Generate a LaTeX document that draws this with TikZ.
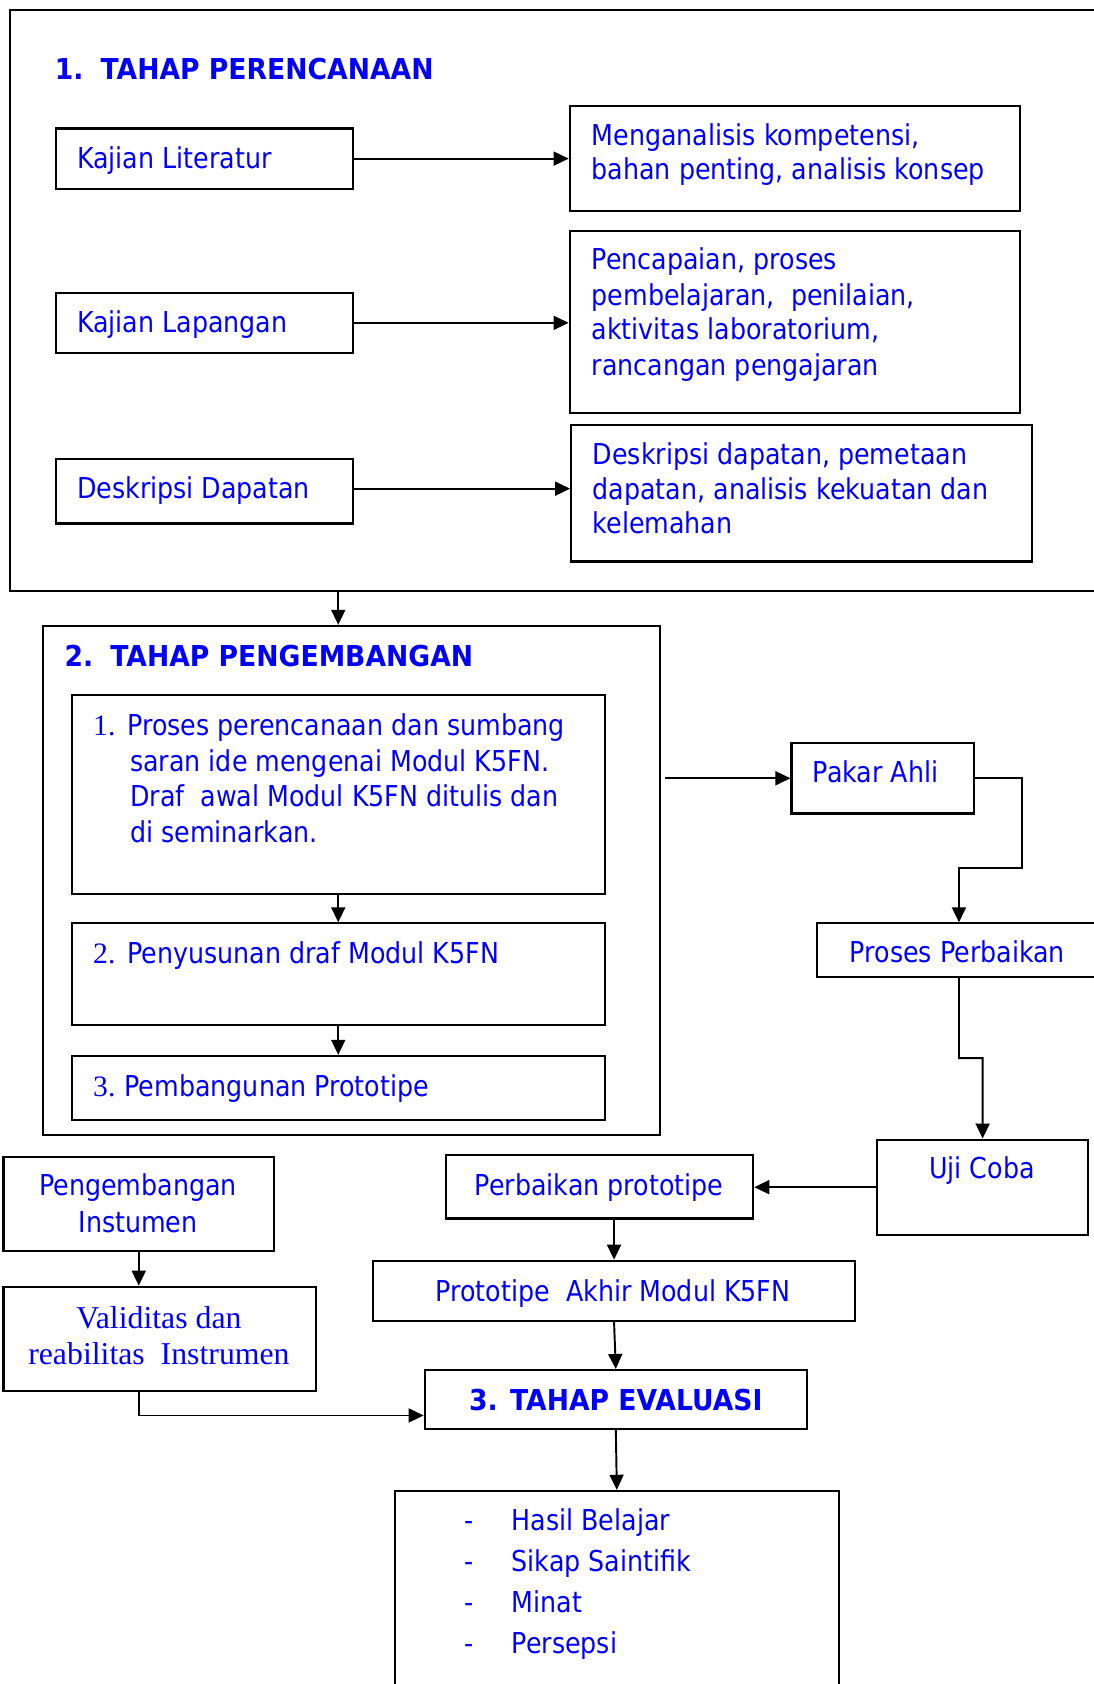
\documentclass[tikz,border=0pt]{standalone}
\usepackage{fontspec}
\setmainfont{DejaVu Sans}[FakeStretch=0.88]
\newfontfamily\titlefont{DejaVu Sans}[FakeStretch=0.925]
\newfontfamily\serifnum{Liberation Serif}
\usetikzlibrary{arrows.meta,fit}
\definecolor{txtblue}{RGB}{0,0,255}
\tikzset{
  box/.style={draw=black, line width=1pt, inner sep=0pt},
  txt/.style={text=txtblue, inner sep=0pt, font=\fontsize{13.4}{16.35}\selectfont},
  btxt/.style={txt, font=\titlefont\fontsize{13.4}{16.35}\selectfont\bfseries},
  stxt/.style={text=txtblue, inner sep=0pt, font=\serifnum\fontsize{14.8}{17}\selectfont},
  ntxt/.style={text=txtblue, inner sep=0pt, font=\serifnum\fontsize{13.8}{16.35}\selectfont},
  link/.style={draw=black, line width=0.9pt, -{Triangle[length=7pt,width=6.5pt]}},
}
\begin{document}
\begin{tikzpicture}[x=0.5pt,y=-0.5pt]
\useasboundingbox (0,0) rectangle (1018,1568);

% ---------- 1. planning stage ----------
\node[box, fit={(9.5,9) (1040,550.5)}] (plan) {};
\node[btxt, anchor=base west] (plantitle) at (50.6,74.1) {1.\hspace{8pt}TAHAP PERENCANAAN};

\node[box, fit={(52,119.7) (329,175.7)}] (kl) {};
\node[txt, anchor=base west] (klt) at (71.4,156.8) {Kajian Literatur};
\node[box, fit={(530.5,98.4) (949.4,196.7)}] (ma) {};
\node[txt, anchor=base west] (ma1) at (550.6,135.4) {Menganalisis kompetensi,};
\node[txt, anchor=base west] (ma2) at (550.6,167.5) {bahan penting, analisis konsep};

\node[box, fit={(52,272.6) (329,328.6)}] (klap) {};
\node[txt, anchor=base west] (klapt) at (71.4,310) {Kajian Lapangan};
\node[box, fit={(530.5,214.9) (949.4,384.2)}] (pen) {};
\node[txt, anchor=base west] (pen1) at (550.6,251.2) {Pencapaian, proses};
\node[txt, anchor=base west] (pen2) at (550.6,284) {pembelajaran,\ \ penilaian,};
\node[txt, anchor=base west] (pen3) at (550.6,316.5) {aktivitas laboratorium,};
\node[txt, anchor=base west] (pen4) at (550.6,349.2) {rancangan pengajaran};

\node[box, fit={(52,427.7) (329,487.5)}] (dd) {};
\node[txt, anchor=base west] (ddt) at (71.4,464.4) {Deskripsi Dapatan};
\node[box, fit={(531.8,396) (961,522.8)}] (ddx) {};
\node[txt, anchor=base west] (ddx1) at (551.5,432.3) {Deskripsi dapatan, pemetaan};
\node[txt, anchor=base west] (ddx2) at (551.5,465) {dapatan, analisis kekuatan dan};
\node[txt, anchor=base west] (ddx3) at (551.5,497.1) {kelemahan};

\draw[link] (kl.east) -- (kl.east -| ma.west);
\draw[link] (klap.east) -- (klap.east -| pen.west);
\draw[link] ([yshift=1.3pt]dd.east) -- ([yshift=1.3pt]dd.east -| ddx.west);

% ---------- 2. development stage ----------
\node[box, fit={(40.3,582.8) (614.3,1056.7)}] (dev) {};
\node[btxt, anchor=base west] (devtitle) at (59.7,620.4) {2.\hspace{8pt}TAHAP PENGEMBANGAN};

\node[box, fit={(66.9,647) (563,832.3)}] (s2a) {};
\node[ntxt, anchor=base west] (s2an) at (86.4,685.2) {1.};
\node[txt, anchor=base west] (s2a1) at (118.2,685.2) {Proses perencanaan dan sumbang};
\node[txt, anchor=base west] (s2a2) at (120.8,718.5) {saran ide mengenai Modul K5FN.};
\node[txt, anchor=base west] (s2a3) at (120.8,751) {Draf\ \ awal Modul K5FN ditulis dan};
\node[txt, anchor=base west] (s2a4) at (120.8,784.3) {di seminarkan.};

\node[box, fit={(66.9,859.8) (563,954.6)}] (s2b) {};
\node[ntxt, anchor=base west] (s2bn) at (86.4,897.4) {2.};
\node[txt, anchor=base west] (s2b1) at (118.2,897.4) {Penyusunan draf Modul K5FN};

\node[box, fit={(66.9,983.2) (563,1042.8)}] (s2c) {};
\node[ntxt, anchor=base west] (s2cn) at (86.4,1020.5) {3.};
\node[txt, anchor=base west] (s2c1) at (115.6,1020.5) {Pembangunan Prototipe};

\draw[link] (s2a.north |- plan.south) -- (s2a.north |- dev.north);
\draw[link] (s2a.south) -- (s2b.north);
\draw[link] (s2b.south) -- (s2c.north);

% ---------- expert review loop ----------
\node[box, fit={(737,691.9) (906.5,757.4)}] (pakar) {};
\node[txt, anchor=base west] (pakart) at (756.5,728.4) {Pakar Ahli};
\node[box, fit={(761,859.8) (1024.8,909.7)}] (proses) {};
\node[txt, anchor=base west] (prosest) at (790.9,896.4) {Proses Perbaikan};
\node[box, fit={(816.9,1061.1) (1013,1149.7)}] (uji) {};
\node[txt, anchor=base] (ujit) at (914.3,1097.3) {Uji Coba};

\coordinate (bendA) at (951.3,808.3);
\coordinate (bendB) at (915,985.3);
\draw[link] ([xshift=2pt]dev.east |- pakar.west) -- (pakar.west);
\draw[link] (pakar.east) -| (bendA) -| (proses.north);
\draw[link] (proses.south) |- (bendB) -- (uji.north);

% ---------- prototype to evaluation ----------
\node[box, fit={(415.6,1075.6) (701.3,1134.5)}] (perb) {};
\node[txt, anchor=base] (perbt) at (557.8,1113.4) {Perbaikan prototipe};
\node[box, fit={(347.4,1173.9) (796.1,1230.1)}] (akhir) {};
\node[txt, anchor=base] (akhirt) at (570.8,1211.4) {Prototipe\ \ Akhir Modul K5FN};
\node[box, fit={(395.5,1275.7) (751.3,1330.2)}] (eval) {};
\node[btxt, anchor=base] (evalt) at (573.4,1313.2) {3. TAHAP EVALUASI};
\node[box, fit={(367.5,1388.2) (781.2,1590)}] (hasil) {};
\foreach \yy/\item [count=\i] in {1425.3/Hasil Belajar, 1463.4/Sikap Saintifik, 1501.2/Minat, 1539.3/Persepsi}{
  \node[txt, anchor=base west] (dash\i) at (432,\yy) {-};
  \node[txt, anchor=base west] (item\i) at (476,\yy) {\item};
}

\draw[link] (uji.west) -- (uji.west -| perb.east);
\draw[link] (akhir.north |- perb.south) -- (akhir.north);
\draw[link] (akhir.south) -- (eval.north);
\draw[link] (eval.south) -- (hasil.north);

% ---------- instrument development ----------
\node[box, fit={(3.2,1076.9) (255.2,1165.1)}] (peng) {};
\node[txt, anchor=base] (peng1) at (128.6,1113.4) {Pengembangan};
\node[txt, anchor=base] (peng2) at (128.6,1147.4) {Instumen};
\node[box, fit={(3.2,1198.1) (294.2,1295.4)}] (valid) {};
\node[stxt, anchor=base] (valid1) at (148,1237.2) {Validitas dan};
\node[stxt, anchor=base] (valid2) at (148,1270.2) {reabilitas\ \ Instrumen};

\draw[link] (peng.south) -- (peng.south |- valid.north);
\draw[link] (peng.south |- valid.south) |- ([yshift=-7.5pt]eval.west);
\end{tikzpicture}
\end{document}
